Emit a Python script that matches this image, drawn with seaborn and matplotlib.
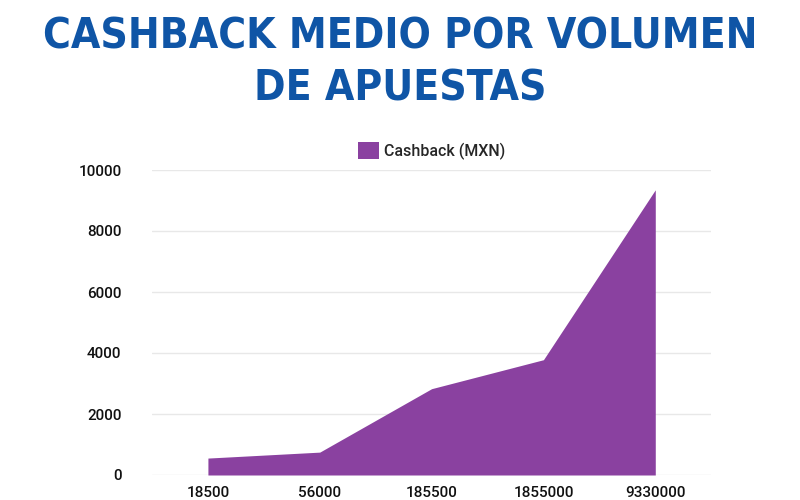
import numpy as np
import pandas as pd
import matplotlib
matplotlib.use("Agg")
import matplotlib.pyplot as plt
import seaborn as sns

# --- Data ---
volumen = ["18500", "56000", "185500", "1855000", "9330000"]
cashback = [555, 750, 2830, 3780, 9350]

TITLE = "CASHBACK MEDIO POR VOLUMEN\nDE APUESTAS"
SERIES = "Cashback (MXN)"
FILL = "#8a41a0"
TITLE_COLOR = "#0f55a6"

sns.set_theme(style="whitegrid")
plt.rcParams["font.family"] = ["Roboto", "DejaVu Sans"]

df = pd.DataFrame({"volumen": volumen, "cashback": cashback})
x = np.arange(len(df))

fig = plt.figure(figsize=(8, 5), dpi=100)
ax = fig.add_axes([0.19, 0.05, 0.699, 0.61])

# line with no width just to put the data on seaborn's axes, then fill under it
sns.lineplot(x=x, y=df["cashback"], ax=ax, linewidth=0, legend=False)
ax.fill_between(x, 0, df["cashback"], color=FILL, linewidth=0, label=SERIES)

ax.set_xlim(-0.5, len(df) - 0.5)
ax.set_ylim(0, 10000)
ax.set_yticks(range(0, 10001, 2000))
ax.set_xticks(x)
ax.set_xticklabels(df["volumen"])
ax.set_xlabel("")
ax.set_ylabel("")
ax.grid(axis="x", visible=False)
ax.grid(axis="y", color="#e8e8e8", linewidth=1)
for s in ax.spines.values():
    s.set_visible(False)
ax.tick_params(axis="both", length=0, labelsize=11, labelcolor="#111111", pad=8)
ax.tick_params(axis="y", pad=22)
for lab in ax.get_xticklabels() + ax.get_yticklabels():
    lab.set_fontweight("medium")

leg = ax.legend(loc="upper center", bbox_to_anchor=(0.5, 1.14), frameon=False,
                handlelength=1.3, handleheight=1.3, handletextpad=0.3, fontsize=11.5)
for t in leg.get_texts():
    t.set_fontweight("medium")

# condensed bold title, two lines
fig.text(0.5, 0.875, TITLE, ha="center", va="center", fontsize=30.5,
         fontweight="bold", fontstretch="condensed", color=TITLE_COLOR,
         family="DejaVu Sans", linespacing=1.3)

fig.savefig("out.png", dpi=100)
